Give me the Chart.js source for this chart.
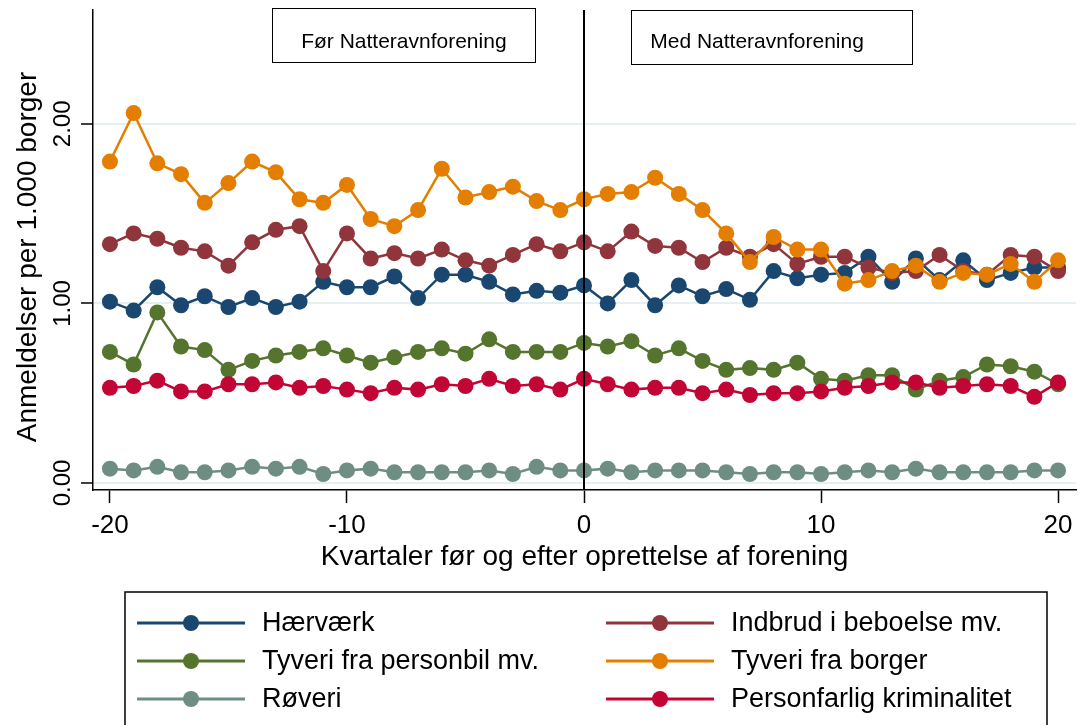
<!DOCTYPE html>
<html>
<head>
<meta charset="utf-8">
<script src="https://cdn.jsdelivr.net/npm/chart.js@4"></script>
<style>
  html, body { margin: 0; padding: 0; background: #fff; }
</style>
</head>
<body>
<canvas id="chart" width="1084" height="725"></canvas>
<script>
// Quarters relative to when the association was founded
const quarters = [-20, -19, -18, -17, -16, -15, -14, -13, -12, -11, -10, -9, -8, -7, -6, -5, -4, -3, -2, -1,
  0, 1, 2, 3, 4, 5, 6, 7, 8, 9, 10, 11, 12, 13, 14, 15, 16, 17, 18, 19, 20];

const xTicks = [-20, -10, 0, 10, 20];
const yTicks = [0, 1, 2];
const yTickLabels = ['0.00', '1.00', '2.00'];
const yTitle = 'Anmeldelser per 1.000 borger';

// Reports per 1,000 citizens
const haervaerk = [1.01, 0.96, 1.09, 0.99, 1.04, 0.98, 1.03, 0.98, 1.01, 1.12, 1.09, 1.09, 1.15, 1.03, 1.16, 1.16, 1.12, 1.05, 1.07, 1.06,
  1.10, 1.00, 1.13, 0.99, 1.10, 1.04, 1.08, 1.02, 1.18, 1.14, 1.16, 1.17, 1.26, 1.12, 1.25, 1.13, 1.24, 1.13, 1.17, 1.20, 1.20];
const indbrud = [1.33, 1.39, 1.36, 1.31, 1.29, 1.21, 1.34, 1.41, 1.43, 1.18, 1.39, 1.25, 1.28, 1.25, 1.30, 1.24, 1.21, 1.27, 1.33, 1.29,
  1.34, 1.29, 1.40, 1.32, 1.31, 1.23, 1.31, 1.26, 1.33, 1.22, 1.26, 1.26, 1.20, 1.17, 1.18, 1.27, 1.18, 1.16, 1.27, 1.26, 1.18];
const personbil = [0.73, 0.66, 0.95, 0.76, 0.74, 0.63, 0.68, 0.71, 0.73, 0.75, 0.71, 0.67, 0.70, 0.73, 0.75, 0.72, 0.80, 0.73, 0.73, 0.73,
  0.78, 0.76, 0.79, 0.71, 0.75, 0.68, 0.63, 0.64, 0.63, 0.67, 0.58, 0.57, 0.60, 0.60, 0.52, 0.57, 0.59, 0.66, 0.65, 0.62, 0.55];
const fraBorger = [1.79, 2.06, 1.78, 1.72, 1.56, 1.67, 1.79, 1.73, 1.58, 1.56, 1.66, 1.47, 1.43, 1.52, 1.75, 1.59, 1.62, 1.65, 1.57, 1.52,
  1.58, 1.61, 1.62, 1.70, 1.61, 1.52, 1.39, 1.23, 1.37, 1.30, 1.30, 1.11, 1.13, 1.18, 1.21, 1.12, 1.17, 1.16, 1.22, 1.12, 1.24];
const roeveri = [0.08, 0.07, 0.09, 0.06, 0.06, 0.07, 0.09, 0.08, 0.09, 0.05, 0.07, 0.08, 0.06, 0.06, 0.06, 0.06, 0.07, 0.05, 0.09, 0.07,
  0.07, 0.08, 0.06, 0.07, 0.07, 0.07, 0.06, 0.05, 0.06, 0.06, 0.05, 0.06, 0.07, 0.06, 0.08, 0.06, 0.06, 0.06, 0.06, 0.07, 0.07];
const personfarlig = [0.53, 0.54, 0.57, 0.51, 0.51, 0.55, 0.55, 0.56, 0.53, 0.54, 0.52, 0.50, 0.53, 0.52, 0.55, 0.54, 0.58, 0.54, 0.55, 0.52,
  0.58, 0.55, 0.52, 0.53, 0.53, 0.50, 0.52, 0.49, 0.50, 0.50, 0.51, 0.53, 0.54, 0.56, 0.56, 0.53, 0.54, 0.55, 0.54, 0.48, 0.56];

const seriesNames = ['Hærværk', 'Indbrud i beboelse mv.', 'Tyveri fra personbil mv.', 'Tyveri fra borger', 'Røveri', 'Personfarlig kriminalitet'];
const seriesValues = [haervaerk, indbrud, personbil, fraBorger, roeveri, personfarlig];
const seriesColors = ['#1a476f', '#90353b', '#55752f', '#e37e00', '#6e8e84', '#c10534'];

// Period boxes at the top, in quarter units
const periods = [
  { from: -13.15, to: -2.05, textAt: -7.6, top: 8, bottom: 62, label: 'Før Natteravnforening' },
  { from: 1.97, to: 13.85, textAt: 7.3, top: 10, bottom: 64, label: 'Med Natteravnforening' }
];

const FONT = "'Liberation Sans', Arial, sans-serif";
Chart.defaults.font.family = FONT;
Chart.defaults.color = '#000';

const datasets = seriesValues.map((vals, i) => ({
  label: seriesNames[i],
  data: quarters.map((q, j) => ({ x: q, y: vals[j] })),
  borderColor: seriesColors[i],
  backgroundColor: seriesColors[i],
  pointBackgroundColor: seriesColors[i],
  pointBorderWidth: 0,
  pointRadius: 8,
  pointHoverRadius: 8,
  borderWidth: 2.5,
  tension: 0,
  order: seriesValues.length - i
}));

const extras = {
  id: 'extras',
  afterDatasetsDraw(chart) {
    const { ctx, chartArea, scales: { x, y } } = chart;
    ctx.save();

    // founding line
    const x0 = x.getPixelForValue(0);
    ctx.strokeStyle = '#000';
    ctx.lineWidth = 2;
    ctx.beginPath();
    ctx.moveTo(x0, chartArea.top);
    ctx.lineTo(x0, chartArea.bottom);
    ctx.stroke();

    // period boxes
    ctx.lineWidth = 1;
    ctx.font = '21px ' + FONT;
    ctx.textAlign = 'center';
    ctx.textBaseline = 'middle';
    periods.forEach(p => {
      const l = Math.round(x.getPixelForValue(p.from)) + 0.5;
      const r = Math.round(x.getPixelForValue(p.to)) + 0.5;
      ctx.fillStyle = '#fff';
      ctx.fillRect(l, p.top, r - l, p.bottom - p.top);
      ctx.strokeRect(l, p.top + 0.5, r - l, p.bottom - p.top);
      ctx.fillStyle = '#000';
      ctx.fillText(p.label, x.getPixelForValue(p.textAt), 42);
    });

    // y tick labels and axis title, rotated
    ctx.font = '24px ' + FONT;
    yTicks.forEach((v, i) => {
      ctx.save();
      ctx.translate(63, y.getPixelForValue(v));
      ctx.rotate(-Math.PI / 2);
      ctx.fillText(yTickLabels[i], 0, 0);
      ctx.restore();
    });
    ctx.save();
    ctx.font = '28px ' + FONT;
    ctx.translate(28, 257);
    ctx.rotate(-Math.PI / 2);
    ctx.fillText(yTitle, 0, 0);
    ctx.restore();

    // legend
    ctx.strokeStyle = '#000';
    ctx.lineWidth = 1.5;
    ctx.strokeRect(125, 592, 922, 200);
    ctx.font = '27px ' + FONT;
    ctx.textAlign = 'left';
    chart.data.datasets.forEach((ds, i) => {
      const col = i % 2, row = Math.floor(i / 2);
      const lx = col === 0 ? 137 : 606;
      const ly = 623 + row * 38;
      ctx.strokeStyle = ds.borderColor;
      ctx.lineWidth = 3;
      ctx.beginPath();
      ctx.moveTo(lx, ly);
      ctx.lineTo(lx + 108, ly);
      ctx.stroke();
      ctx.fillStyle = ds.borderColor;
      ctx.beginPath();
      ctx.arc(lx + 54, ly, 8, 0, Math.PI * 2);
      ctx.fill();
      ctx.fillStyle = '#000';
      ctx.fillText(ds.label, lx + 125, ly + 1);
    });

    ctx.restore();
  }
};

new Chart(document.getElementById('chart'), {
  type: 'line',
  data: { datasets },
  plugins: [extras],
  options: {
    responsive: false,
    devicePixelRatio: 1,
    animation: false,
    layout: { padding: { top: 10, right: 4, bottom: 145, left: 0 } },
    plugins: { legend: { display: false }, tooltip: { enabled: false } },
    scales: {
      x: {
        type: 'linear',
        min: -20.714,
        max: 20.756,
        afterBuildTicks: s => { s.ticks = xTicks.map(v => ({ value: v })); },
        afterFit: s => { s.height = 90; },
        ticks: { font: { size: 26 }, color: '#000', padding: 7, maxRotation: 0, minRotation: 0, callback: v => String(v) },
        grid: { drawOnChartArea: false, tickLength: 13, tickColor: '#000', tickWidth: 1.5 },
        border: { color: '#000', width: 1.5 },
        title: { display: true, text: 'Kvartaler før og efter oprettelse af forening', font: { size: 28 }, color: '#000', padding: { top: 0, bottom: 6 } }
      },
      y: {
        min: -0.039,
        max: 2.634,
        afterBuildTicks: s => { s.ticks = yTicks.map(v => ({ value: v })); },
        afterFit: s => { s.width = 93; },
        ticks: { display: false },
        grid: { color: '#e6eff1', lineWidth: 2, tickLength: 12, tickColor: '#000', tickWidth: 1.5 },
        border: { color: '#000', width: 1.5 }
      }
    }
  }
});
</script>
</body>
</html>
